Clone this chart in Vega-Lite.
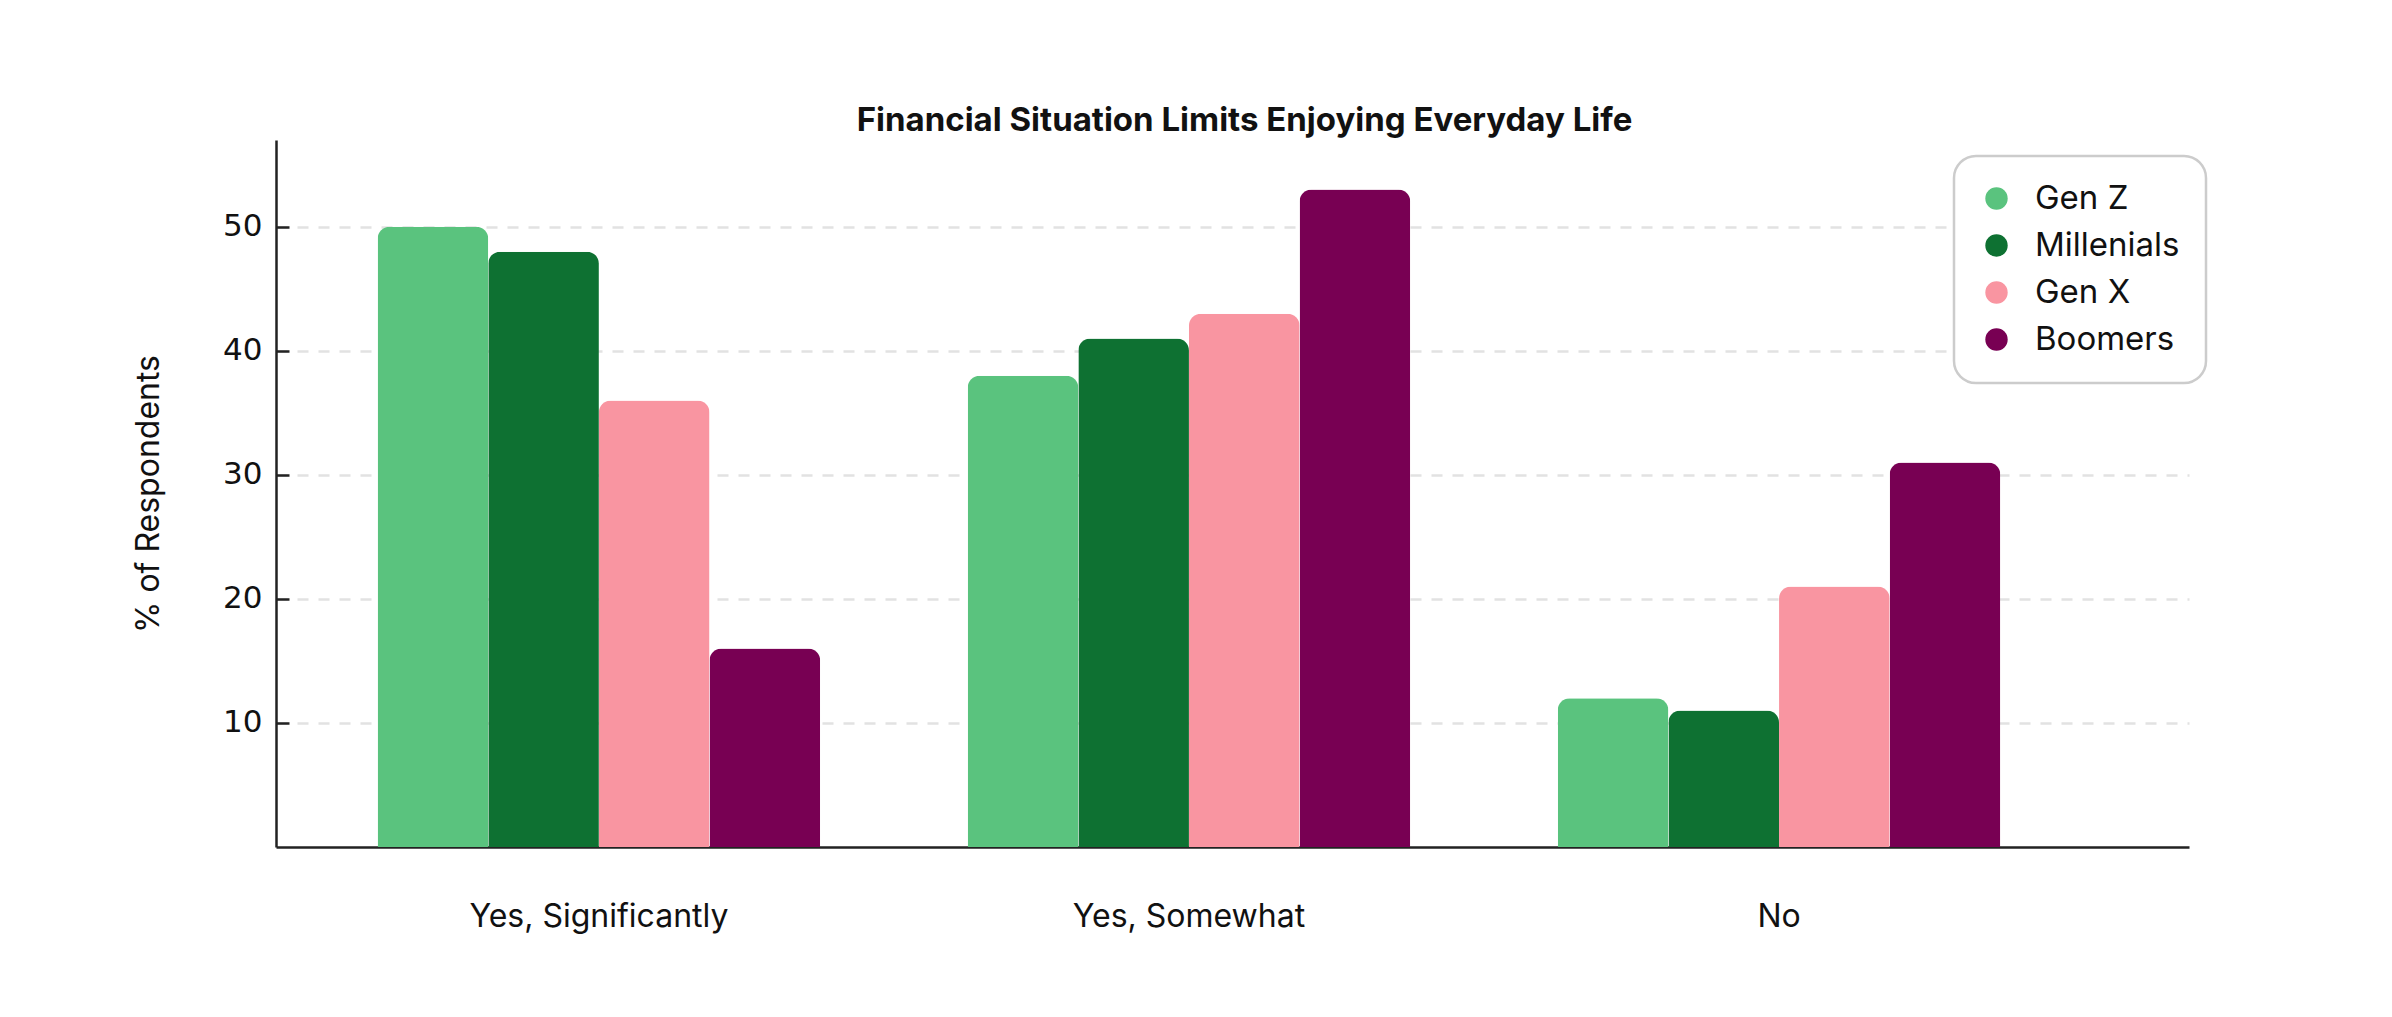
{
  "$schema": "https://vega.github.io/schema/vega-lite/v6.json",
  "width": 1913,
  "height": 707,
  "autosize": {"type": "none"},
  "padding": {"left": 276, "top": 140, "right": 203, "bottom": 170},
  "background": "white",
  "title": {
    "text": "Financial Situation Limits Enjoying Everyday Life",
    "anchor": "middle",
    "frame": "group",
    "font": "Inter",
    "fontSize": 33,
    "fontWeight": "bold",
    "color": "#111111",
    "offset": 2,
    "dx": 12
  },
  "data": {
    "values": [
      {"response": "Yes, Significantly", "generation": "Gen Z", "pct": 50},
      {"response": "Yes, Significantly", "generation": "Millenials", "pct": 48},
      {"response": "Yes, Significantly", "generation": "Gen X", "pct": 36},
      {"response": "Yes, Significantly", "generation": "Boomers", "pct": 16},
      {"response": "Yes, Somewhat", "generation": "Gen Z", "pct": 38},
      {"response": "Yes, Somewhat", "generation": "Millenials", "pct": 41},
      {"response": "Yes, Somewhat", "generation": "Gen X", "pct": 43},
      {"response": "Yes, Somewhat", "generation": "Boomers", "pct": 53},
      {"response": "No", "generation": "Gen Z", "pct": 12},
      {"response": "No", "generation": "Millenials", "pct": 11},
      {"response": "No", "generation": "Gen X", "pct": 21},
      {"response": "No", "generation": "Boomers", "pct": 31}
    ]
  },
  "mark": {"type": "bar", "cornerRadiusTopLeft": 12, "cornerRadiusTopRight": 12},
  "encoding": {
    "x": {
      "field": "response",
      "type": "nominal",
      "sort": ["Yes, Significantly", "Yes, Somewhat", "No"],
      "scale": {"paddingInner": 0.25, "paddingOuter": 0.246, "align": 0.35},
      "axis": {
        "title": null,
        "labelAngle": 0,
        "ticks": false,
        "labelLimit": 0,
        "labelPadding": 54,
        "labelFont": "Inter",
        "labelFontSize": 32,
        "labelColor": "#111111",
        "domainColor": "#222222",
        "domainWidth": 2.5
      }
    },
    "xOffset": {
      "field": "generation",
      "type": "nominal",
      "sort": ["Gen Z", "Millenials", "Gen X", "Boomers"],
      "scale": {"paddingInner": 0, "paddingOuter": 0}
    },
    "y": {
      "field": "pct",
      "type": "quantitative",
      "scale": {"domain": [0, 57], "nice": false},
      "axis": {
        "title": "% of Respondents",
        "titleFont": "Inter",
        "titleFontSize": 32,
        "titleFontWeight": "normal",
        "titleColor": "#111111",
        "titleX": -128,
        "titleBaseline": "middle",
        "values": [10, 20, 30, 40, 50],
        "labelFont": "DejaVu Sans",
        "labelFontSize": 31,
        "labelColor": "#111111",
        "labelPadding": 27,
        "tickSize": -13,
        "tickColor": "#222222",
        "tickWidth": 2.5,
        "domainColor": "#222222",
        "domainWidth": 2.5,
        "grid": true,
        "gridColor": "#e2e2e2",
        "gridDash": [11, 10],
        "gridWidth": 2.5
      }
    },
    "color": {
      "field": "generation",
      "type": "nominal",
      "sort": ["Gen Z", "Millenials", "Gen X", "Boomers"],
      "scale": {
        "domain": ["Gen Z", "Millenials", "Gen X", "Boomers"],
        "range": ["#5AC37E", "#0E7132", "#F995A1", "#780053"]
      },
      "legend": {
        "title": null,
        "orient": "none",
        "legendX": 1678,
        "legendY": 16,
        "symbolType": "circle",
        "symbolSize": 500,
        "labelFont": "Inter",
        "labelFontSize": 33,
        "labelColor": "#111111",
        "labelOffset": 22,
        "rowPadding": 13,
        "padding": 26,
        "strokeColor": "#cccccc",
        "cornerRadius": 22,
        "fillColor": "white",
        "encode": {"legend": {"update": {"strokeWidth": {"value": 2.5}}}}
      }
    }
  },
  "config": {
    "view": {"stroke": null},
    "font": "Inter"
  }
}
